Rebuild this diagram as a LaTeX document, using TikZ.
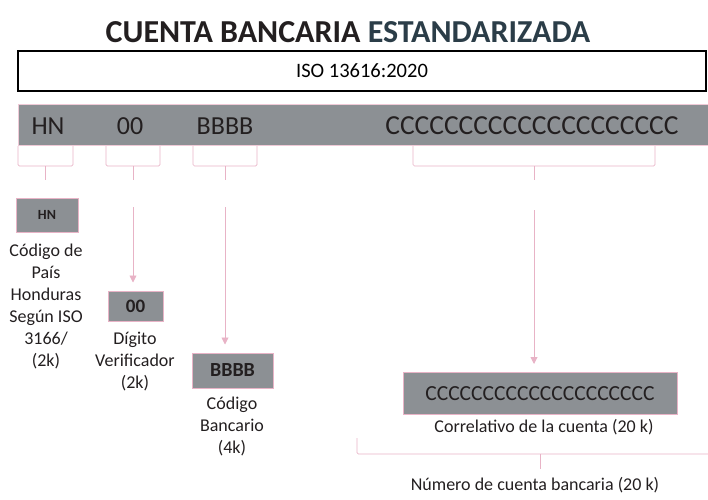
\documentclass[tikz,border=0pt]{standalone}
\usepackage{fontspec}
\setmainfont{Carlito}
\usepackage{tikz}
\usetikzlibrary{calc,arrows.meta,positioning}
\usepackage{xcolor}
\definecolor{barra}{HTML}{8C9094}
\definecolor{rosa}{HTML}{E8B3C6}
\definecolor{tinta}{HTML}{231F20}
\definecolor{azulosc}{HTML}{2B3D48}

\tikzset{
	caja/.style={draw=rosa,fill=barra,line width=1pt,inner sep=0pt,font=\bfseries,text=tinta},
	llave/.style={draw=rosa,line width=0.7pt,rounded corners=1.5pt},
	flecha/.style={draw=rosa,line width=0.9pt,-{Triangle[width=7pt,length=7pt]},shorten >=8pt},
	etiq/.style={align=center,inner sep=0pt,text=tinta,font=\fontsize{18}{22}\selectfont},
	cod/.style={inner sep=0pt,text=tinta,font=\fontsize{26}{30}\selectfont}
}

\begin{document}
\begin{tikzpicture}[x=1pt,y=-1pt]
		\useasboundingbox (0,0) rectangle (708,499);
		\node[text=tinta,font=\fontsize{32}{36}\selectfont\bfseries] (titulo) at (348,32) {CUENTA BANCARIA \textcolor{azulosc}{ESTANDARIZADA}};
		\node[draw=black,line width=1.1pt,minimum width=688pt,minimum height=40pt,inner sep=0pt,font=\fontsize{20.5}{24}\selectfont] (iso) at (362,71) {ISO 13616:2020};
		% barra con el formato
		\node[draw=rosa!70,fill=barra,minimum width=692pt,minimum height=41pt,inner sep=0pt] (barra) at (364,124.5) {};
		\node[cod] (hn) at (48,126) {HN};
		\node[cod] (dv) at (130,126) {00};
		\node[cod] (bc) at (225,126) {BBBB};
		\node[cod,font=\fontsize{27.5}{30}\selectfont] (cc) at (532,126) {CCCCCCCCCCCCCCCCCCCC};
		% llaves bajo cada campo
		\foreach \a/\b/\n in {18/73/hn,106/160/dv,193/257/bc,413/655/cc}
		{
		\draw[llave] (\a,146) -- (\a,166) -- (\b,166) -- (\b,146);
		\coordinate (l\n) at ({(\a+\b)/2},166);
		\coordinate (p\n) at ({(\a+\b)/2},180);
		\draw[llave] (l\n) -- (p\n);
		}
		% cajas de cada campo
		\node[caja,minimum width=62pt,minimum height=34pt,font=\fontsize{14}{16}\selectfont\bfseries] (chn) at (47,215) {HN};
		\node[caja,minimum width=55pt,minimum height=30pt,font=\fontsize{19}{22}\selectfont\bfseries] (cdv) at (135.5,306) {00};
		\node[caja,minimum width=81pt,minimum height=35pt,font=\fontsize{20}{22}\selectfont\bfseries] (cbc) at (232.5,370.5) {BBBB};
		\node[caja,minimum width=274pt,minimum height=42pt,font=\fontsize{21.5}{24}\selectfont] (ccc) at (540,393.5) {CCCCCCCCCCCCCCCCCCCC};
		\coordinate (adv) at (133,207);
		\coordinate (abc) at (225,207);
		\coordinate (acc) at (534,210);
		\draw[flecha] (adv) -- (adv|-cdv.north);
		\draw[flecha] (abc) -- (abc|-cbc.north);
		\draw[flecha] (acc) -- (acc|-ccc.north);
		% textos descriptivos
		\node[etiq] (thn) at (46,306) {Código de\\País\\Honduras\\Según ISO\\3166/\\(2k)};
		\node[etiq] (tdv) at (135,362) {Dígito\\Verificador\\(2k)};
		\node[etiq] (tbc) at (232,426) {Código\\Bancario\\(4k)};
		\node[etiq] (tcc) at (544,427) {Correlativo de la cuenta (20 k)};
		% llave del numero de cuenta
		\coordinate (nizq) at (357,438);
		\coordinate (nder) at (715,438);
		\draw[llave] (nizq) -- (357,454) -- (715,454);
		\coordinate (ntop) at (540,454);
		\coordinate (npun) at (540,469);
		\draw[llave] (ntop) -- (npun);
		\node[etiq] (num) at (535,485) {Número de cuenta bancaria (20 k)};
	\end{tikzpicture}
\end{document}
